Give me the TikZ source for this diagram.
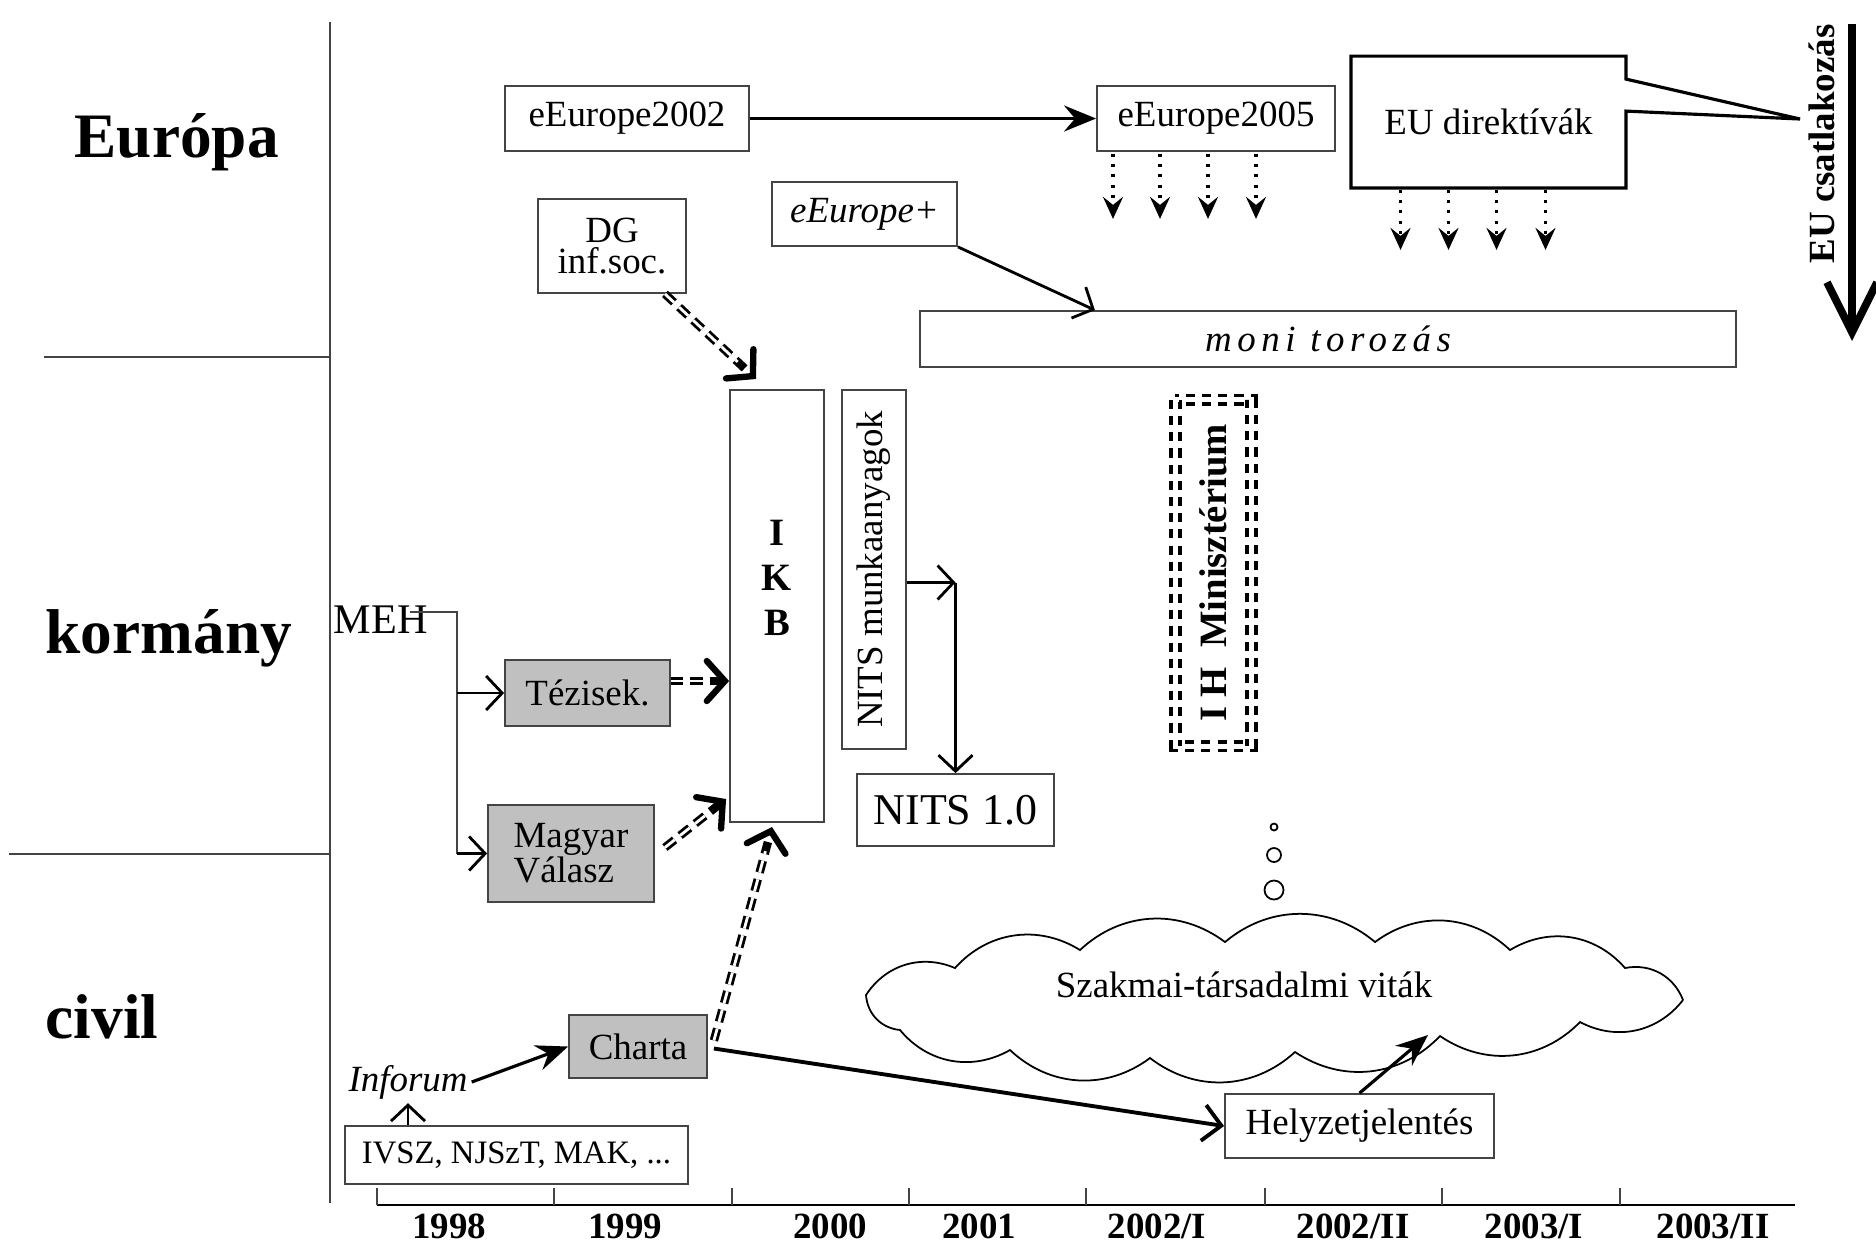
\documentclass[tikz,border=0pt]{standalone}
\usepackage{fontspec}
\setmainfont{Liberation Serif}
\usetikzlibrary{arrows.meta,calc,positioning}
\definecolor{cline}{HTML}{444444}
\definecolor{cshade}{HTML}{C0C0C0}

\begin{document}
\begin{tikzpicture}[
    x=0.01cm, y=-0.01cm,
    frame/.style={draw=cline, line width=0.6pt},
    box/.style={draw=cline, line width=0.5pt, fill=white, inner sep=1pt, align=center,
      font=\fontsize{10.5}{10}\selectfont},
    shaded/.style={box, fill=cshade},
    region/.style={anchor=base west, inner sep=0, font=\fontsize{18}{20}\selectfont\bfseries},
    yearlbl/.style={anchor=base, inner sep=0, font=\fontsize{10.5}{12}\selectfont\bfseries},
    solidarr/.style={line width=0.9pt, -{Stealth[length=3.2mm,width=2.6mm,inset=1.1mm]}},
    openarr/.style={line width=0.8pt, -{Straight Barb[length=1.6mm,width=3.4mm]}},
    thickopen/.style={line width=1.1pt, -{Straight Barb[length=1.8mm,width=3.6mm]}},
    dotarr/.style={line width=0.9pt, dotted, -{Stealth[length=2.2mm,width=2mm,inset=0.8mm]}},
    dblarr/.style={line width=2.4pt, dash pattern=on 3.5pt off 2pt,
      -{Straight Barb[length=1.8mm,width=4mm,line width=1.8pt,line cap=round]},
      postaction={draw=white, line width=0.8pt, -, shorten >=2.5mm}},
    dblbox/.style={draw, line width=1.1pt, double, double distance=1.4pt,
      dash pattern=on 2.6pt off 2pt, inner sep=0, font=\fontsize{11}{13}\selectfont\bfseries},
    puff/.style={line width=0.5pt, every to/.style={bend right=40}},
    bubble/.style={circle, draw, line width=0.5pt, inner sep=0},
    euarr/.style={line width=2.2pt, -{Straight Barb[length=5mm,width=5mm]}},
  ]
  \useasboundingbox (0,0) rectangle (1876,1244);

  % levels
  \node[region] (europa) at (74,157) {Európa};
  \node[region] (kormany) at (45,653) {kormány};
  \node[region] (civil) at (45,1038) {civil};
  \draw[frame] (330,22) -- (330,1203);
  \draw[frame] (44,357) -- (330,357);
  \draw[frame] (9,854) -- (330,854);

  % Europe
  \node[box, minimum width=2.44cm, minimum height=0.65cm] (e2002) at (627,118.5) {eEurope2002};
  \node[box, minimum width=2.38cm, minimum height=0.65cm] (e2005) at (1216,118.5) {eEurope2005};
  \node[box, draw=none, fill=none, minimum width=2.73cm, minimum height=1.30cm] (dir) at (1488.5,122) {EU direktívák};
  \node[box, minimum width=1.85cm, minimum height=0.64cm,
    font=\fontsize{10.5}{10}\selectfont\itshape] (eplus) at (864.5,214) {eEurope+};
  \node[box, minimum width=8.16cm, minimum height=0.56cm,
    font=\fontsize{10.5}{10}\selectfont\itshape\addfontfeatures{LetterSpace=15}] (moni) at (1328,339) {moni torozás};
  \node[box, minimum width=1.48cm, minimum height=0.94cm,
    font=\fontsize{10.5}{9}\selectfont] (dg) at (612,246) {DG\\inf.soc.};

  \coordinate (eupt) at (1800,119);
  \draw[line width=0.9pt] (dir.north west) -- (dir.north east) -- ($(dir.north east)+(0,23)$)
    -- (eupt) -- ($(dir.north east)+(0,55)$) -- (dir.south east) -- (dir.south west) -- cycle;
  \coordinate (eutop) at (1852,24);
  \coordinate (eubot) at (1852,341);
  \draw[euarr] (eutop) -- (eubot);
  \node[rotate=90, inner sep=0, font=\fontsize{10.5}{12}\selectfont\bfseries] (eulbl) at (1822,144) {EU csatlakozás};

  \draw[solidarr] (e2002) -- (e2005);
  \foreach \dx in {-103,-56,-8,40}
    \draw[dotarr] ($(e2005.south)+(\dx,2)$) -- ++(0,65);
  \foreach \dx in {-88,-40,8,57}
    \draw[dotarr] ($(dir.south)+(\dx,2)$) -- ++(0,60);
  \draw[openarr] (eplus.south east) -- ($(moni.north west)+(176,0)$);

  % government
  \node[box, minimum width=0.94cm, minimum height=4.32cm,
    label={[font=\fontsize{11}{12.8}\selectfont\bfseries, align=center, yshift=0.28cm]center:I\\K\\B}] (ikb) at (777,606) {};
  \node[box, rotate=90, minimum width=3.59cm, minimum height=0.64cm] (nm) at (874,569.5) {NITS munkaanyagok};
  \node[box, minimum width=1.97cm, minimum height=0.72cm,
    font=\fontsize{12.5}{14}\selectfont] (nits) at (955.5,810) {NITS 1.0};
  \node[dblbox, rotate=90, minimum width=3.46cm, minimum height=0.76cm] (ih) at (1213.5,573) {I H\enspace Minisztérium};
  \node[anchor=base west, inner sep=0, font=\fontsize{12}{14}\selectfont] (meh) at (333,633) {MEH};
  \node[shaded, minimum width=1.65cm, minimum height=0.66cm] (tez) at (587.5,693) {Tézisek.};
  \node[shaded, align=left, minimum width=1.66cm, minimum height=0.97cm] (magy) at (571,853.5) {Magyar\\Válasz};

  \coordinate (mehj) at (410,612);
  \coordinate (mehk) at (457,612);
  \draw[frame, line width=0.5pt] (mehj) -- (mehk) -- (mehk |- magy.west);
  \draw[openarr] (mehk |- tez.west) -- (tez.west);
  \draw[openarr] (mehk |- magy.west) -- (magy.west);

  \coordinate (tzout) at ($(tez.east)+(0,-12)$);
  \draw[dblarr] (tzout) -- (tzout -| ikb.west);
  \draw[dblarr] ($(magy.east)+(10,-6)$) -- ($(ikb.south west)+(-3,-24)$);
  \draw[dblarr] ($(dg.south east)+(-22,0)$) -- ($(ikb.north)+(-21,-10)$);

  \coordinate (nmout) at ($(nm.south)+(0,13)$);
  \draw[openarr] (nmout) -- (nmout -| nits.north);
  \draw[openarr] (nmout -| nits.north) -- (nits.north);

  % civil
  \node[shaded, minimum width=1.38cm, minimum height=0.63cm] (charta) at (638,1046.5) {Charta};
  \node[box, minimum width=3.43cm, minimum height=0.58cm,
    font=\fontsize{9.3}{10}\selectfont] (ivsz) at (516.5,1155) {IVSZ, NJSzT, MAK, ...};
  \node[inner sep=1pt, font=\fontsize{10.5}{12}\selectfont\itshape] (inforum) at (408,1082) {Inforum};
  \node[box, minimum width=2.69cm, minimum height=0.64cm] (helyz) at (1359.5,1126) {Helyzetjelentés};

  % the cloud
  \draw[puff] (1683,1000) to (1625,968) to (1510,950) to (1375,942) to (1225,942)
    to (1080,950) to (955,968) to (866,995) to (900,1030) to (1010,1050)
    to (1150,1058) to (1295,1052) to (1440,1036) to (1580,1022) to (1683,1000);
  \node[inner sep=0, font=\fontsize{10.5}{12}\selectfont] (vitak) at (1244,985) {Szakmai-társadalmi viták};
  \node[bubble, minimum size=0.07cm] (bub1) at (1274,827) {};
  \node[bubble, minimum size=0.14cm] (bub2) at (1274,855) {};
  \node[bubble, minimum size=0.19cm] (bub3) at (1274,890) {};

  \draw[openarr] (inforum.south |- ivsz.north) -- (inforum.south);
  \draw[solidarr] (inforum.east) -- (charta.west);
  \draw[dblarr] ($(charta.east)+(6,-6)$) -- ($(ikb.south)+(-5,4)$);
  \draw[thickopen] ($(charta.east)+(6,2)$) -- (helyz.west);
  \draw[solidarr] (helyz.north) -- ($(vitak)+(184,50)$);

  % time axis
  \draw[line width=0.8pt] (377,1205) -- (1795,1205);
  \foreach \tx in {377,554,732,909,1086,1265,1442,1620}
    \draw[frame] (\tx,1205) -- (\tx,1188);
  \foreach \yx/\yr in {449/1998,625/1999,830/2000,979/2001,1157/{2002/I},1353/{2002/II},1534/{2003/I},1713/{2003/II}}
    \node[yearlbl] (yr\yx) at (\yx,1238) {\yr};
\end{tikzpicture}
\end{document}
